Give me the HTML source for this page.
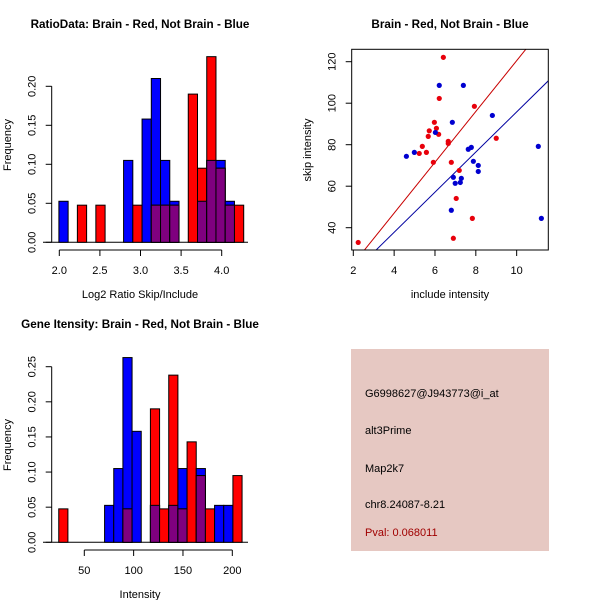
<!DOCTYPE html>
<html><head><meta charset="utf-8"><style>
html,body{margin:0;padding:0;background:#fff}
svg{display:block;font-family:"Liberation Sans",sans-serif}
</style></head><body>
<svg id="c" width="600" height="600" viewBox="0 0 600 600"></svg>
<script>
// Panel 1: ratio histogram (bins of equal width)
const ratioBinStart = 1.995;
const ratioBinWidth = 0.1138;
const ratioBlue = [0.0526,0,0,0,0,0,0,0.105,0,0.158,0.21,0.105,0.0526,0,0,0.0526,0.105,0.105,0.0526,0];
const ratioRed  = [0,0,0.0476,0,0.0476,0,0,0,0.0476,0,0.0476,0.0476,0.0476,0,0.19,0.095,0.238,0.095,0.0476,0.0476];
const ratioXTicks = [2.0,2.5,3.0,3.5,4.0];
const ratioYTicks = [0.00,0.05,0.10,0.15,0.20];
// Panel 3: intensity histogram
const intBinStart = 24.1;
const intBinWidth = 9.29;
const intBlue = [0,0,0,0,0,0.0526,0.105,0.263,0.158,0,0.0526,0,0.0526,0.105,0,0.105,0,0.0526,0.0526,0];
const intRed  = [0.0476,0,0,0,0,0,0,0.0476,0,0,0.19,0.0476,0.238,0.0476,0.143,0.095,0.0476,0,0,0.095];
const intXTicks = [50,100,150,200];
const intYTicks = [0.00,0.05,0.10,0.15,0.20,0.25];
// Panel 2: scatter
const redInclude = [2.24,6.41,6.21,7.93,5.97,6.07,5.72,6.18,5.67,6.65,6.65,5.38,5.58,5.23,5.92,6.80,9.00,7.19,7.04,7.83,6.90];
const redSkip    = [32.9,122.1,102.3,98.5,90.8,87.9,86.7,85.0,84.0,81.6,80.6,79.2,76.3,75.8,71.5,71.5,83.1,67.6,54.1,44.5,34.9];
const blueInclude = [6.21,7.39,8.81,6.85,6.02,4.60,4.99,11.06,7.63,7.78,7.88,8.12,8.12,6.90,7.29,7.24,6.99,6.80,11.21];
const blueSkip    = [108.6,108.6,94.1,90.8,85.9,74.4,76.3,79.2,77.8,78.7,72.0,70.0,67.1,64.3,63.8,61.8,61.4,48.4,44.5];
const redFit = [-1.9,12.24];   // intercept, slope
const blueFit = [-0.9,9.67];
const scXTicks = [2,4,6,8,10];
const scYTicks = [40,60,80,100,120];

const NS="http://www.w3.org/2000/svg";
const svg=document.getElementById('c');
function el(tag,attrs,parent){const e=document.createElementNS(NS,tag);for(const k in attrs)e.setAttribute(k,attrs[k]);(parent||svg).appendChild(e);return e;}
function txt(s,x,y,attrs,parent){const t=el('text',Object.assign({x:x,y:y},attrs),parent);t.textContent=s;return t;}

function hist(g,blue,red,start,w,xs,ys,baseX0,baseX1){
  const y0=ys(0);
  el('line',{x1:baseX0,x2:baseX1,y1:y0,y2:y0,stroke:'#000'},g);
  for(let i=0;i<blue.length;i++){
    const xa=xs(start+i*w),xb=xs(start+(i+1)*w);
    const b=blue[i],r=red[i];
    if(b>0){const rb=el('rect',{x:xa,y:ys(b),width:xb-xa,height:y0-ys(b),fill:'#0000ff',stroke:'#000','stroke-width':1},g);
      
      }
    if(r>0){const rr=el('rect',{x:xa,y:ys(r),width:xb-xa,height:y0-ys(r),fill:'#ff0000',stroke:'#000','stroke-width':1},g);
      
      }
    const m=Math.min(b,r);
    if(m>0){const rp=el('rect',{x:xa,y:ys(m),width:xb-xa,height:y0-ys(m),fill:'#7f007f',stroke:'#000','stroke-width':1},g);
      
      }
  }
}
function yaxis(g,ticks,ys,x,fmt){
  el('line',{x1:x,x2:x,y1:ys(ticks[0]),y2:ys(ticks[ticks.length-1]),stroke:'#000'},g);
  ticks.forEach(t=>{const y=ys(t);el('line',{x1:x-6,x2:x,y1:y,y2:y,stroke:'#000'},g);
    const l=txt(fmt(t),x-16,y,{'font-size':11,'text-anchor':'middle',transform:`rotate(-90 ${x-16} ${y})`},g);
    
    });
}
function xaxis(g,ticks,xs,y,fmt){
  el('line',{x1:xs(ticks[0]),x2:xs(ticks[ticks.length-1]),y1:y,y2:y,stroke:'#000'},g);
  ticks.forEach(t=>{const x=xs(t);el('line',{x1:x,x2:x,y1:y,y2:y+6,stroke:'#000'},g);
    const l=txt(fmt(t),x,y+24,{'font-size':11,'text-anchor':'middle'},g);
    
    });
}

// Panel 1
const g1=el('g',{});


{
  const xs=v=>59.3+(v-2.0)*81.2, ys=v=>242.3-v*780;
  hist(g1,ratioBlue,ratioRed,ratioBinStart,ratioBinWidth,xs,ys,43,248);
  yaxis(g1,ratioYTicks,ys,51.7,t=>t.toFixed(2));
  xaxis(g1,ratioXTicks,xs,250,t=>t.toFixed(1));
  txt('RatioData: Brain - Red, Not Brain - Blue',140,28,{'font-size':11.7,'font-weight':'bold','text-anchor':'middle',},g1);
  txt('Log2 Ratio Skip/Include',140,298,{'font-size':11,'text-anchor':'middle',},g1);
  txt('Frequency',11,145,{'font-size':11,'text-anchor':'middle',transform:'rotate(-90 11 145)',},g1);
}
// Panel 3
const g3=el('g',{});


{
  const xs=v=>84.3+(v-50)*0.9867, ys=v=>542.3-v*702.4;
  hist(g3,intBlue,intRed,intBinStart,intBinWidth,xs,ys,43,248);
  yaxis(g3,intYTicks,ys,51.7,t=>t.toFixed(2));
  xaxis(g3,intXTicks,xs,550,t=>String(t));
  txt('Gene Itensity: Brain - Red, Not Brain - Blue',140,328,{'font-size':11.7,'font-weight':'bold','text-anchor':'middle',},g3);
  txt('Intensity',140,598,{'font-size':11,'text-anchor':'middle',},g3);
  txt('Frequency',11,445,{'font-size':11,'text-anchor':'middle',transform:'rotate(-90 11 445)',},g3);
}
// Panel 2
const g2=el('g',{});


{
  const L=351.7,R=548.3,T=49.3,B=250;
  const xs=v=>353.3+(v-2)*20.42, ys=v=>227.7-(v-40)*2.075;
  el('defs',{},g2).innerHTML='<clipPath id="sc"><rect x="'+L+'" y="'+T+'" width="'+(R-L)+'" height="'+(B-T)+'"/></clipPath>';
  const cg=el('g',{'clip-path':'url(#sc)'},g2);
  function fit(f,col,name){const xa=0,xb=14;
    const ln=el('line',{x1:xs(xa),y1:ys(f[0]+f[1]*xa),x2:xs(xb),y2:ys(f[0]+f[1]*xb),stroke:col,'stroke-width':1},cg);
    
    }
  fit(redFit,'#c80000','red-fit-line');
  fit(blueFit,'#0000a0','blue-fit-line');
  redInclude.forEach((x,i)=>{const c=el('circle',{cx:xs(x),cy:ys(redSkip[i]),r:2.6,fill:'#e8000b'},g2);
    
    });
  blueInclude.forEach((x,i)=>{const c=el('circle',{cx:xs(x),cy:ys(blueSkip[i]),r:2.6,fill:'#0000d0'},g2);
    
    });
  el('rect',{x:L,y:T,width:R-L,height:B-T,fill:'none',stroke:'#000'},g2);
  scYTicks.forEach(t=>{const y=ys(t);el('line',{x1:L-6,x2:L,y1:y,y2:y,stroke:'#000'},g2);
    const l=txt(String(t),L-16,y,{'font-size':11,'text-anchor':'middle',transform:`rotate(-90 ${L-16} ${y})`},g2);
    
    });
  scXTicks.forEach(t=>{const x=xs(t);el('line',{x1:x,x2:x,y1:B,y2:B+6,stroke:'#000'},g2);
    const l=txt(String(t),x,B+24,{'font-size':11,'text-anchor':'middle'},g2);
    
    });
  txt('Brain - Red, Not Brain - Blue',450,28,{'font-size':11.7,'font-weight':'bold','text-anchor':'middle',},g2);
  txt('include intensity',450,298,{'font-size':11,'text-anchor':'middle',},g2);
  txt('skip intensity',311,150,{'font-size':11,'text-anchor':'middle',transform:'rotate(-90 311 150)',},g2);
}
// Info panel
const g4=el('g',{});


el('rect',{x:351,y:349,width:198,height:202,fill:'#e6c8c2'},g4);
txt('G6998627@J943773@i_at',365,397,{'font-size':11,fill:'#000',},g4);
txt('alt3Prime',365,434,{'font-size':11,fill:'#000',},g4);
txt('Map2k7',365,472,{'font-size':11,fill:'#000',},g4);
txt('chr8.24087-8.21',365,508,{'font-size':11,fill:'#000',},g4);
txt('Pval: 0.068011',365,536,{'font-size':11,fill:'#a00000',},g4);
</script>
</body></html>
